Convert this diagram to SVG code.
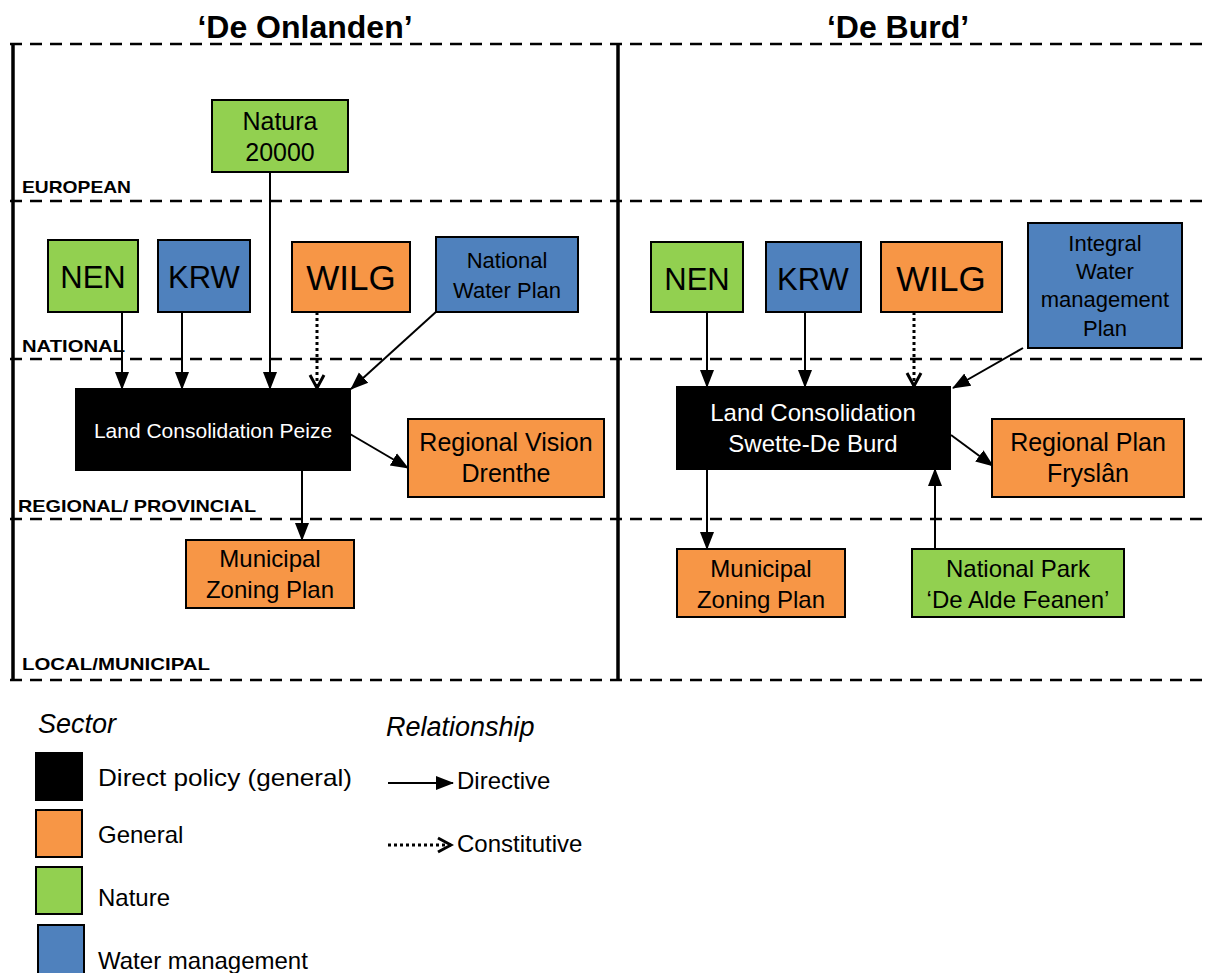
<svg xmlns="http://www.w3.org/2000/svg" width="1205" height="973" viewBox="0 0 1205 973">
<defs>
  <marker id="solidHead" markerWidth="18" markerHeight="18" viewBox="0 0 18 18" refX="17" refY="9" orient="auto" markerUnits="userSpaceOnUse">
    <path d="M0,2 L18,9 L0,16 Z" fill="#000"/>
  </marker>
  <marker id="openHead" markerWidth="18" markerHeight="18" viewBox="0 0 18 18" refX="15" refY="9" orient="auto" markerUnits="userSpaceOnUse">
    <path d="M2,2 L15,9 L2,16" fill="none" stroke="#000" stroke-width="3"/>
  </marker>
  <style>
    text { font-family: "Liberation Sans Narrow", "Liberation Sans", Arial, sans-serif; fill: #000; }
    .title { font-size: 32px; font-weight: bold; text-anchor: middle; }
    .level { font-size: 17px; font-weight: bold; }
    .box { stroke: #000; stroke-width: 2; }
    .nature { fill: #92D050; }
    .water { fill: #4F81BD; }
    .general { fill: #F79646; }
    .direct { fill: #000; }
    .lbl { text-anchor: middle; }
    .white { fill: #fff; }
    .dash { stroke: #000; stroke-width: 2.5; stroke-dasharray: 12 8; fill: none; }
    .wall { stroke: #000; stroke-width: 3.5; }
    .arrow { stroke: #000; stroke-width: 2; fill: none; marker-end: url(#solidHead); }
    .dotted { stroke: #000; stroke-width: 3; stroke-dasharray: 3 3; fill: none; marker-end: url(#openHead); }
    .legend { font-size: 24px; }
    .legendHead { font-size: 27px; font-style: italic; }
  </style>
</defs>

<!-- Case titles -->
<text class="title" x="305" y="38">‘De Onlanden’</text>
<text class="title" x="898" y="38">‘De Burd’</text>

<!-- Governance level bands -->
<g id="levels">
  <line class="dash" x1="10" y1="44" x2="1205" y2="44"/>
  <line class="dash" x1="10" y1="201" x2="1205" y2="201"/>
  <line class="dash" x1="10" y1="359" x2="1205" y2="359"/>
  <line class="dash" x1="10" y1="519" x2="1205" y2="519"/>
  <line class="dash" x1="10" y1="680" x2="1205" y2="680"/>
  <line class="wall" x1="13" y1="44" x2="13" y2="680"/>
  <line class="wall" x1="618" y1="44" x2="618" y2="680"/>
  <text class="level" x="22" y="193" textLength="109" lengthAdjust="spacingAndGlyphs">EUROPEAN</text>
  <text class="level" x="22" y="352" textLength="103" lengthAdjust="spacingAndGlyphs">NATIONAL</text>
  <text class="level" x="18" y="512" textLength="238" lengthAdjust="spacingAndGlyphs">REGIONAL/ PROVINCIAL</text>
  <text class="level" x="22" y="670" textLength="188" lengthAdjust="spacingAndGlyphs">LOCAL/MUNICIPAL</text>
</g>

<!-- Connectors -->
<g id="connectors">
  <!-- De Onlanden -->
  <line class="arrow" x1="122" y1="312" x2="122" y2="389"/>
  <line class="arrow" x1="182" y1="312" x2="182" y2="389"/>
  <line class="arrow" x1="270" y1="172" x2="270" y2="389"/>
  <line class="dotted" x1="317" y1="312" x2="317" y2="388"/>
  <line class="arrow" x1="437" y1="311" x2="351" y2="389"/>
  <line class="arrow" x1="350" y1="434" x2="408" y2="468"/>
  <line class="arrow" x1="302" y1="470" x2="302" y2="540"/>
  <!-- De Burd -->
  <line class="arrow" x1="707" y1="312" x2="707" y2="387"/>
  <line class="arrow" x1="805" y1="312" x2="805" y2="387"/>
  <line class="dotted" x1="914" y1="312" x2="914" y2="386"/>
  <line class="arrow" x1="1023" y1="348" x2="953" y2="388"/>
  <line class="arrow" x1="951" y1="435" x2="993" y2="466"/>
  <line class="arrow" x1="707" y1="469" x2="707" y2="549"/>
  <line class="arrow" x1="935" y1="549" x2="935" y2="469"/>
</g>

<!-- De Onlanden nodes -->
<g id="natura2000">
  <rect class="box nature" x="212" y="100" width="136" height="72"/>
  <text class="lbl" x="280" y="130" font-size="25">Natura</text>
  <text class="lbl" x="280" y="161" font-size="25">20000</text>
</g>
<g id="nen-onlanden">
  <rect class="box nature" x="48" y="240" width="90" height="72"/>
  <text class="lbl" x="93" y="288" font-size="31">NEN</text>
</g>
<g id="krw-onlanden">
  <rect class="box water" x="158" y="240" width="92" height="72"/>
  <text class="lbl" x="204" y="288" font-size="31">KRW</text>
</g>
<g id="wilg-onlanden">
  <rect class="box general" x="292" y="242" width="118" height="70"/>
  <text class="lbl" x="351" y="290" font-size="35">WILG</text>
</g>
<g id="national-water-plan">
  <rect class="box water" x="436" y="237" width="142" height="75"/>
  <text class="lbl" x="507" y="268" font-size="22">National</text>
  <text class="lbl" x="507" y="298" font-size="22">Water Plan</text>
</g>
<g id="lc-peize">
  <rect class="box direct" x="76" y="389" width="274" height="81"/>
  <text class="lbl white" x="213" y="438" font-size="21">Land Consolidation Peize</text>
</g>
<g id="regional-vision-drenthe">
  <rect class="box general" x="408" y="419" width="196" height="78"/>
  <text class="lbl" x="506" y="451" font-size="25">Regional Vision</text>
  <text class="lbl" x="506" y="482" font-size="25">Drenthe</text>
</g>
<g id="municipal-zoning-onlanden">
  <rect class="box general" x="186" y="540" width="168" height="68"/>
  <text class="lbl" x="270" y="567" font-size="24">Municipal</text>
  <text class="lbl" x="270" y="598" font-size="24">Zoning Plan</text>
</g>

<!-- De Burd nodes -->
<g id="nen-burd">
  <rect class="box nature" x="651" y="242" width="92" height="70"/>
  <text class="lbl" x="697" y="290" font-size="31">NEN</text>
</g>
<g id="krw-burd">
  <rect class="box water" x="766" y="242" width="95" height="70"/>
  <text class="lbl" x="813" y="290" font-size="31">KRW</text>
</g>
<g id="wilg-burd">
  <rect class="box general" x="881" y="242" width="121" height="70"/>
  <text class="lbl" x="941" y="291" font-size="35">WILG</text>
</g>
<g id="integral-water-plan">
  <rect class="box water" x="1028" y="223" width="154" height="125"/>
  <text class="lbl" x="1105" y="251" font-size="22">Integral</text>
  <text class="lbl" x="1105" y="279" font-size="22">Water</text>
  <text class="lbl" x="1105" y="307" font-size="22">management</text>
  <text class="lbl" x="1105" y="336" font-size="22">Plan</text>
</g>
<g id="lc-swette-de-burd">
  <rect class="box direct" x="677" y="387" width="273" height="82"/>
  <text class="lbl white" x="813" y="421" font-size="24">Land Consolidation</text>
  <text class="lbl white" x="813" y="452" font-size="24">Swette-De Burd</text>
</g>
<g id="regional-plan-fryslan">
  <rect class="box general" x="992" y="419" width="192" height="78"/>
  <text class="lbl" x="1088" y="451" font-size="25">Regional Plan</text>
  <text class="lbl" x="1088" y="482" font-size="25">Fryslân</text>
</g>
<g id="municipal-zoning-burd">
  <rect class="box general" x="677" y="549" width="168" height="68"/>
  <text class="lbl" x="761" y="577" font-size="24">Municipal</text>
  <text class="lbl" x="761" y="608" font-size="24">Zoning Plan</text>
</g>
<g id="national-park">
  <rect class="box nature" x="912" y="549" width="212" height="68"/>
  <text class="lbl" x="1018" y="577" font-size="24">National Park</text>
  <text class="lbl" x="1018" y="608" font-size="24">‘De Alde Feanen’</text>
</g>

<!-- Legend -->
<g id="legend">
  <text class="legendHead" x="38" y="733">Sector</text>
  <rect class="box direct" x="36" y="753" width="46" height="47"/>
  <text class="legend" x="98" y="786" textLength="254" lengthAdjust="spacingAndGlyphs">Direct policy (general)</text>
  <rect class="box general" x="36" y="810" width="46" height="47"/>
  <text class="legend" x="98" y="843">General</text>
  <rect class="box nature" x="36" y="867" width="46" height="47"/>
  <text class="legend" x="98" y="906">Nature</text>
  <rect class="box water" x="38" y="925" width="46" height="50"/>
  <text class="legend" x="98" y="969">Water management</text>

  <text class="legendHead" x="386" y="736">Relationship</text>
  <line class="arrow" x1="388" y1="783" x2="453" y2="783" stroke-width="2.5"/>
  <text class="legend" x="457" y="789">Directive</text>
  <line class="dotted" x1="388" y1="845" x2="451" y2="845"/>
  <text class="legend" x="457" y="852">Constitutive</text>
</g>
</svg>
